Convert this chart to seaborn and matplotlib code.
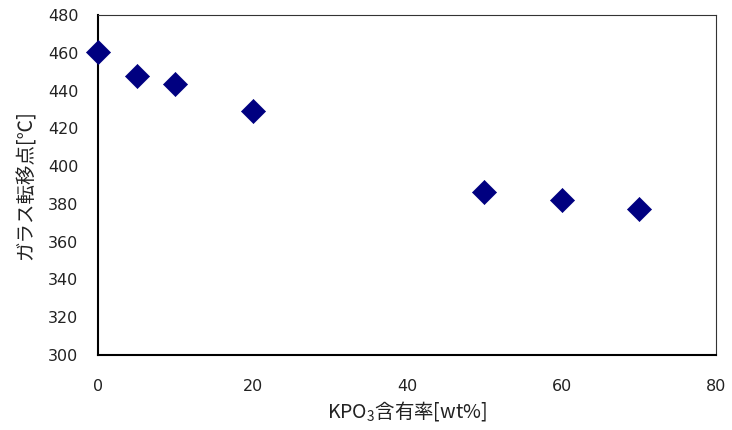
import matplotlib
matplotlib.use("Agg")
import matplotlib.pyplot as plt
import seaborn as sns
import pandas as pd

# KPO3 content (wt%) and glass transition temperature (deg C)
kpo3_wt = [0, 5, 10, 20, 50, 60, 70]
tg_c = [460.5, 447.5, 443.5, 429.0, 386.5, 382.0, 377.5]
x_ticks = [0, 20, 40, 60, 80]
y_ticks = [300, 320, 340, 360, 380, 400, 420, 440, 460, 480]

sns.set_theme(style="white")
plt.rcParams["font.family"] = ["Noto Sans CJK JP", "DejaVu Sans"]
plt.rcParams["mathtext.fontset"] = "custom"
plt.rcParams["mathtext.rm"] = "Noto Sans CJK JP"

df = pd.DataFrame({"KPO3": kpo3_wt, "Tg": tg_c})

fig = plt.figure(figsize=(7.32, 4.30), dpi=100)
ax = fig.add_axes([98 / 732, 1 - 355 / 430, (716 - 98) / 732, (355 - 15) / 430])

sns.scatterplot(data=df, x="KPO3", y="Tg", ax=ax, marker="D", s=150,
                color="#000080", edgecolor="#000080", linewidth=0.5,
                clip_on=False, zorder=5)

ax.set_xlim(0, 80)
ax.set_ylim(300, 480)
ax.set_xticks(x_ticks)
ax.set_yticks(y_ticks)
ax.tick_params(axis="both", direction="in", length=5, width=1, colors="black",
               labelcolor="#222222")
ax.tick_params(axis="x", pad=17)
ax.tick_params(axis="y", pad=14)
for lab in ax.get_xticklabels() + ax.get_yticklabels():
    lab.set_fontfamily("DejaVu Sans")
    lab.set_fontsize(11.5)
for side in ["left", "bottom"]:
    ax.spines[side].set_color("black")
    ax.spines[side].set_linewidth(1.5)
for side in ["top", "right"]:
    ax.spines[side].set_color("#333333")
    ax.spines[side].set_linewidth(0.8)

ax.set_xlabel("KPO$_3$含有率[wt%]", fontsize=14, color="#222222", labelpad=4)
ax.set_ylabel("ガラス転移点[℃]", fontsize=14, color="#222222", labelpad=8)

fig.savefig("out.png", dpi=100, facecolor="white")
